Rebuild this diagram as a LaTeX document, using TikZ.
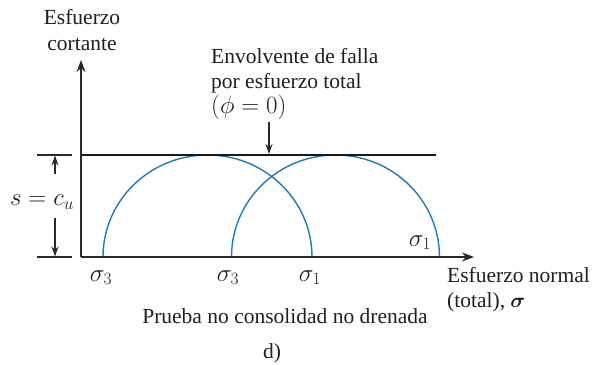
\documentclass[tikz,border=0pt]{standalone}
\usepackage{bm}
\usepackage{fontspec}
\setmainfont{Liberation Serif}
\usetikzlibrary{arrows.meta}
\definecolor{circblue}{RGB}{30,122,186}
\definecolor{axgray}{RGB}{40,40,40}
\begin{document}
\begin{tikzpicture}[x=1pt,y=-1pt,
  lbl/.style={inner sep=0pt,font=\fontsize{21.5}{26}\selectfont,text=black!88},
  mlbl/.style={inner sep=0pt,font=\fontsize{24}{28}\selectfont,text=black!88},
  axis/.style={line width=1.8pt,draw=axgray,-{Stealth[length=12pt,width=9pt]}},
  dimarrow/.style={line width=1.2pt,draw=axgray,-{Stealth[length=10pt,width=7pt]}},
  tick/.style={line width=1.4pt,draw=axgray},
  mohr/.style={line width=1.4pt,draw=circblue},
  envelope/.style={line width=2.6pt,draw=black!90}]
\useasboundingbox (0,0) rectangle (599,364);
% coordinates
\coordinate (O) at (81,257);
\coordinate (Ytip) at (81,60);
\coordinate (Xtip) at (474,257);
\coordinate (E1) at (82,155);
\coordinate (E2) at (436,155);
\coordinate (L3) at (103,257);
\coordinate (R3) at (231.5,257);
% circles
\draw[mohr] (L3) arc[start angle=180,end angle=360,x radius=104.5,y radius=102];
\draw[mohr] (R3) arc[start angle=180,end angle=360,x radius=104,y radius=102];
% axes
\draw[axis] (O) -- (Ytip);
\draw[axis] (O) -- (Xtip);
% envelope
\draw[envelope] (E1) -- (E2);
% envelope arrow
\coordinate (Ea) at (269,122);
\coordinate (Eb) at (269,154);
\draw[dimarrow] (Ea) -- (Eb);
% dimension
\coordinate (T1a) at (37,155);
\coordinate (T1b) at (72,155);
\coordinate (T2a) at (37,257);
\coordinate (T2b) at (72,257);
\draw[tick] (T1a) -- (T1b);
\draw[tick] (T2a) -- (T2b);
\coordinate (D1a) at (55,174);
\coordinate (D1b) at (55,155.5);
\coordinate (D2a) at (55,218);
\coordinate (D2b) at (55,256.5);
\draw[dimarrow] (D1a) -- (D1b);
\draw[dimarrow] (D2a) -- (D2b);
% labels
\node[lbl,anchor=base] (yl1) at (82,24) {Esfuerzo};
\node[lbl,anchor=base] (yl2) at (82,50) {cortante};
\node[lbl,anchor=base west] (en1) at (211,63) {Envolvente de falla};
\node[lbl,anchor=base west] (en2) at (211,88) {por esfuerzo total};
\node[lbl,anchor=base west,font=\fontsize{23}{26}\selectfont] (en3) at (211,113) {$(\phi = 0)$};
\node[mlbl] (scu) at (42,202) {$s = c_u$};
\node[mlbl,anchor=base] (s3a) at (101,281) {$\sigma_3$};
\node[mlbl,anchor=base] (s3b) at (228,281) {$\sigma_3$};
\node[mlbl,anchor=base] (s1a) at (310,281) {$\sigma_1$};
\node[mlbl,anchor=base] (s1b) at (420,246) {$\sigma_1$};
\node[lbl,anchor=base west] (xl1) at (447,282) {Esfuerzo normal};
\node[lbl,anchor=base west] (xl2) at (447,307) {(total), $\bm{\sigma}$};
\node[lbl,anchor=base] (cap) at (285,323) {Prueba no consolidad no drenada};
\node[lbl,anchor=base] (dlab) at (272,358) {d)};
\end{tikzpicture}
\end{document}
